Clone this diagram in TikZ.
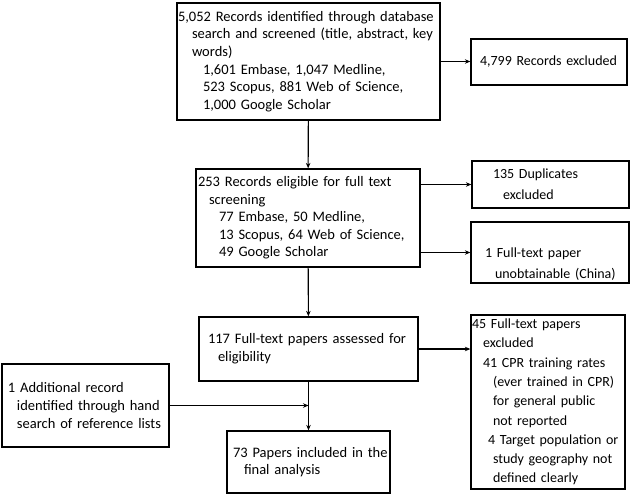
\documentclass[tikz,border=0pt]{standalone}
\usepackage{fontspec}
\setmainfont{Carlito}
\usetikzlibrary{arrows.meta,positioning}

\tikzset{
  box/.style={draw, line width=1.3pt, inner sep=0pt, align=left,
    font=\fontsize{14.5}{17.6}\selectfont},
  sidebox/.style={box, font=\fontsize{14}{21}\selectfont},
  tallbox/.style={box, font=\fontsize{14}{19.3}\selectfont},
  link/.style={line width=1.1pt},
  arr/.style={link, -{Stealth[length=5.5pt,width=4.5pt]}},
}
\newcommand{\tline}[2]{\mbox{\hspace*{#1pt}#2}}

\begin{document}
\begin{tikzpicture}[x=1pt,y=-1pt]
\useasboundingbox (0,0) rectangle (631,496);

% main column
\node[box, minimum width=263pt, minimum height=117pt, text width=261pt] (found) at (308.5,61.5)
  {\tline{0}{5,052 Records identified through database}\\
   \tline{14}{search and screened (title, abstract, key}\\
   \tline{14}{words)}\\
   \tline{25}{1,601 Embase, 1,047 Medline,}\\
   \tline{25}{523 Scopus, 881 Web of Science,}\\
   \tline{25}{1,000 Google Scholar}};
\node[box, minimum width=224pt, minimum height=98pt, text width=220pt] (eligible) at (308,218)
  {\tline{0}{253 Records eligible for full text}\\
   \tline{11}{screening}\\
   \tline{21}{77 Embase, 50 Medline,}\\
   \tline{21}{13 Scopus, 64 Web of Science,}\\
   \tline{21}{49 Google Scholar}};
\node[box, minimum width=219pt, minimum height=64pt, text width=201pt] (assessed) at (308.5,349)
  {\tline{0}{117 Full-text papers assessed for}\\
   \tline{10}{eligibility}};
\node[box, minimum width=163pt, minimum height=62pt, text width=151pt] (included) at (308.5,462)
  {\tline{0}{73 Papers included in the}\\
   \tline{11}{final analysis}};
\node[box, minimum width=167pt, minimum height=83pt, text width=155pt] (handsearch) at (85.5,405.5)
  {\tline{0}{1 Additional record}\\
   \tline{9}{identified through hand}\\
   \tline{9}{search of reference lists}};

% exclusions
\node[sidebox, minimum width=156pt, minimum height=46pt, text width=138pt] (excl) at (549,62)
  {\tline{0}{4,799 Records excluded}};
\node[sidebox, minimum width=157pt, minimum height=47pt, text width=115pt] (dupl) at (550.5,184.5)
  {\tline{0}{135 Duplicates}\\
   \tline{10}{excluded}};
\node[sidebox, minimum width=158pt, minimum height=61pt, text width=130pt, text depth=0pt] (unobt) at (550,252.5)
  {\tline{0}{1 Full-text paper}\\
   \tline{10}{unobtainable (China)}};
\node[tallbox, minimum width=154pt, minimum height=174pt, text width=152pt] (fullexcl) at (548,402)
  {\tline{0}{45 Full-text papers}\\
   \tline{11}{excluded}\\
   \tline{11}{41 CPR training rates}\\
   \tline{21}{(ever trained in CPR)}\\
   \tline{21}{for general public}\\
   \tline{21}{not reported}\\
   \tline{16}{4 Target population or}\\
   \tline{21}{study geography not}\\
   \tline{21}{defined clearly}};

% connectors
\draw[arr] (found) -- (eligible);
\draw[arr] (eligible) -- (assessed);
\draw[arr] (assessed) -- (included);
\draw[arr] (found.east) -- (found.east -| excl.west);
\draw[arr] (eligible.east |- dupl.west) -- (dupl.west);
\draw[arr] (eligible.east |- unobt.west) -- (unobt.west);
\draw[arr] (assessed.east) -- (assessed.east -| fullexcl.west);
\draw[arr] (handsearch.east) -- (handsearch.east -| assessed.south);
\end{tikzpicture}
\end{document}
